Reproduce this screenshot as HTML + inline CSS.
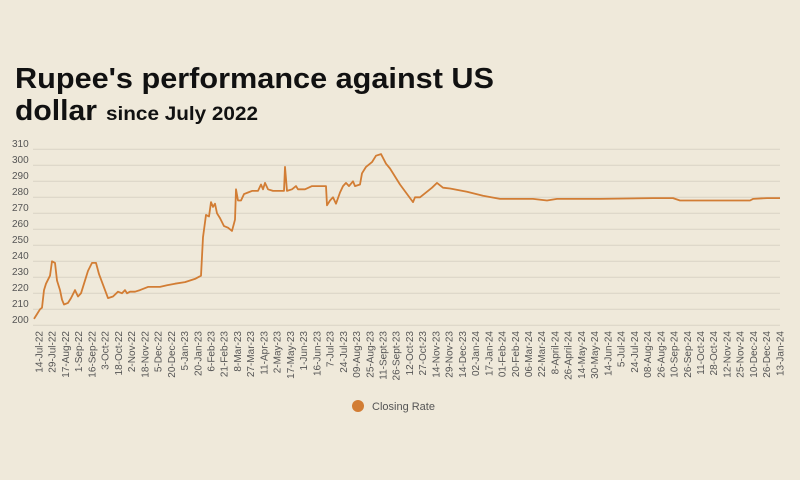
<!DOCTYPE html>
<html><head><meta charset="utf-8"><style>
html,body{margin:0;padding:0;background:#efe9da;}
svg{display:block;font-family:"Liberation Sans",sans-serif;}
</style></head><body>
<svg width="800" height="480" viewBox="0 0 800 480" xmlns="http://www.w3.org/2000/svg">
<rect width="800" height="480" fill="#efe9da"/>
<text x="15" y="88" font-size="29" font-weight="bold" fill="#111" textLength="479" lengthAdjust="spacingAndGlyphs">Rupee's performance against US</text>
<text x="15" y="120" font-size="29" font-weight="bold" fill="#111" textLength="82" lengthAdjust="spacingAndGlyphs">dollar</text>
<text x="106" y="120" font-size="19" font-weight="bold" fill="#111" textLength="152" lengthAdjust="spacingAndGlyphs">since July 2022</text>
<g stroke="#d9d3c4" stroke-width="1">
<line x1="33" x2="780" y1="149.3" y2="149.3"/><line x1="33" x2="780" y1="165.3" y2="165.3"/><line x1="33" x2="780" y1="181.3" y2="181.3"/><line x1="33" x2="780" y1="197.3" y2="197.3"/><line x1="33" x2="780" y1="213.3" y2="213.3"/><line x1="33" x2="780" y1="229.3" y2="229.3"/><line x1="33" x2="780" y1="245.3" y2="245.3"/><line x1="33" x2="780" y1="261.3" y2="261.3"/><line x1="33" x2="780" y1="277.3" y2="277.3"/><line x1="33" x2="780" y1="293.3" y2="293.3"/><line x1="33" x2="780" y1="309.3" y2="309.3"/><line x1="33" x2="780" y1="325.3" y2="325.3"/>
</g>
<g font-size="10" fill="#555">
<text x="12" y="147">310</text><text x="12" y="163">300</text><text x="12" y="179">290</text><text x="12" y="195">280</text><text x="12" y="211">270</text><text x="12" y="227">260</text><text x="12" y="243">250</text><text x="12" y="259">240</text><text x="12" y="275">230</text><text x="12" y="291">220</text><text x="12" y="307">210</text><text x="12" y="323">200</text>
</g>
<polyline fill="none" stroke="#d27d34" stroke-width="1.8" vector-effect="non-scaling-stroke" stroke-linejoin="round" transform="matrix(1,0,0,-1.6,0,645.3)" points="34,204 37,207 40,210 42,211 44,222 46,226 50,231 52,240 55,239 57,228 60,222 62,216 64,213 68,214 71,217 75,222 78,218 81,220 84,226 88,234 92,239 96,239 99,232 102,227 105,222 108,217 113,218 118,221 122,220 125,222 127,220 130,221 135,221 140,222 148,224 160,224 167,225 175,226 185,227 195,229 201,231 203,255 206,269 209,268 211,277 213,274 215,276 217,270 220,267 224,262 228,261 232,259 235,266 236,285 238,278 241,278 244,282 248,283 252,284 258,284 261,288 263,285 265,289 268,285 273,284 278,284 284,284 285,299 287,284 292,285 296,287 298,285 305,285 312,287 317,287 326,287 327,275 330,278 333,280 336,276 340,283 343,287 346,289 349,287 353,290 355,287 360,288 362,295 366,299 372,302 376,306 381,307 386,301 390,298 400,288 413,277 415,280 420,280 432,286 437,289 443,286 450,285.5 467,283.5 483,281 500,279 533,279 547,278 557,279 600,279 653,279.5 673,279.5 680,278 733,278 750,278 753,279 767,279.5 780,279.5"/>
<g font-size="10" fill="#555" text-anchor="end">
<text transform="translate(42.5,331) rotate(-90)">14-Jul-22</text>
<text transform="translate(55.7,331) rotate(-90)">29-Jul-22</text>
<text transform="translate(69,331) rotate(-90)">17-Aug-22</text>
<text transform="translate(82.2,331) rotate(-90)">1-Sep-22</text>
<text transform="translate(95.4,331) rotate(-90)">16-Sep-22</text>
<text transform="translate(108.7,331) rotate(-90)">3-Oct-22</text>
<text transform="translate(121.9,331) rotate(-90)">18-Oct-22</text>
<text transform="translate(135.1,331) rotate(-90)">2-Nov-22</text>
<text transform="translate(148.3,331) rotate(-90)">18-Nov-22</text>
<text transform="translate(161.6,331) rotate(-90)">5-Dec-22</text>
<text transform="translate(174.8,331) rotate(-90)">20-Dec-22</text>
<text transform="translate(188,331) rotate(-90)">5-Jan-23</text>
<text transform="translate(201.3,331) rotate(-90)">20-Jan-23</text>
<text transform="translate(214.5,331) rotate(-90)">6-Feb-23</text>
<text transform="translate(227.7,331) rotate(-90)">21-Feb-23</text>
<text transform="translate(241,331) rotate(-90)">8-Mar-23</text>
<text transform="translate(254.2,331) rotate(-90)">27-Mar-23</text>
<text transform="translate(267.4,331) rotate(-90)">11-Apr-23</text>
<text transform="translate(280.6,331) rotate(-90)">2-May-23</text>
<text transform="translate(293.9,331) rotate(-90)">17-May-23</text>
<text transform="translate(307.1,331) rotate(-90)">1-Jun-23</text>
<text transform="translate(320.3,331) rotate(-90)">16-Jun-23</text>
<text transform="translate(333.6,331) rotate(-90)">7-Jul-23</text>
<text transform="translate(346.8,331) rotate(-90)">24-Jul-23</text>
<text transform="translate(360,331) rotate(-90)">09-Aug-23</text>
<text transform="translate(373.3,331) rotate(-90)">25-Aug-23</text>
<text transform="translate(386.5,331) rotate(-90)">11-Sept-23</text>
<text transform="translate(399.7,331) rotate(-90)">26-Sept-23</text>
<text transform="translate(412.9,331) rotate(-90)">12-Oct-23</text>
<text transform="translate(426.2,331) rotate(-90)">27-Oct-23</text>
<text transform="translate(439.4,331) rotate(-90)">14-Nov-23</text>
<text transform="translate(452.6,331) rotate(-90)">29-Nov-23</text>
<text transform="translate(465.9,331) rotate(-90)">14-Dec-23</text>
<text transform="translate(479.1,331) rotate(-90)">02-Jan-24</text>
<text transform="translate(492.3,331) rotate(-90)">17-Jan-24</text>
<text transform="translate(505.6,331) rotate(-90)">01-Feb-24</text>
<text transform="translate(518.8,331) rotate(-90)">20-Feb-24</text>
<text transform="translate(532,331) rotate(-90)">06-Mar-24</text>
<text transform="translate(545.2,331) rotate(-90)">22-Mar-24</text>
<text transform="translate(558.5,331) rotate(-90)">8-April-24</text>
<text transform="translate(571.7,331) rotate(-90)">26-April-24</text>
<text transform="translate(584.9,331) rotate(-90)">14-May-24</text>
<text transform="translate(598.2,331) rotate(-90)">30-May-24</text>
<text transform="translate(611.4,331) rotate(-90)">14-Jun-24</text>
<text transform="translate(624.6,331) rotate(-90)">5-Jul-24</text>
<text transform="translate(637.9,331) rotate(-90)">24-Jul-24</text>
<text transform="translate(651.1,331) rotate(-90)">08-Aug-24</text>
<text transform="translate(664.3,331) rotate(-90)">26-Aug-24</text>
<text transform="translate(677.5,331) rotate(-90)">10-Sep-24</text>
<text transform="translate(690.8,331) rotate(-90)">26-Sep-24</text>
<text transform="translate(704,331) rotate(-90)">11-Oct-24</text>
<text transform="translate(717.2,331) rotate(-90)">28-Oct-24</text>
<text transform="translate(730.5,331) rotate(-90)">12-Nov-24</text>
<text transform="translate(743.7,331) rotate(-90)">25-Nov-24</text>
<text transform="translate(756.9,331) rotate(-90)">10-Dec-24</text>
<text transform="translate(770.2,331) rotate(-90)">26-Dec-24</text>
<text transform="translate(783.4,331) rotate(-90)">13-Jan-24</text>
</g>
<circle cx="358" cy="406" r="6" fill="#d27d34"/>
<text x="372" y="410" font-size="11" fill="#555">Closing Rate</text>
</svg>
</body></html>
